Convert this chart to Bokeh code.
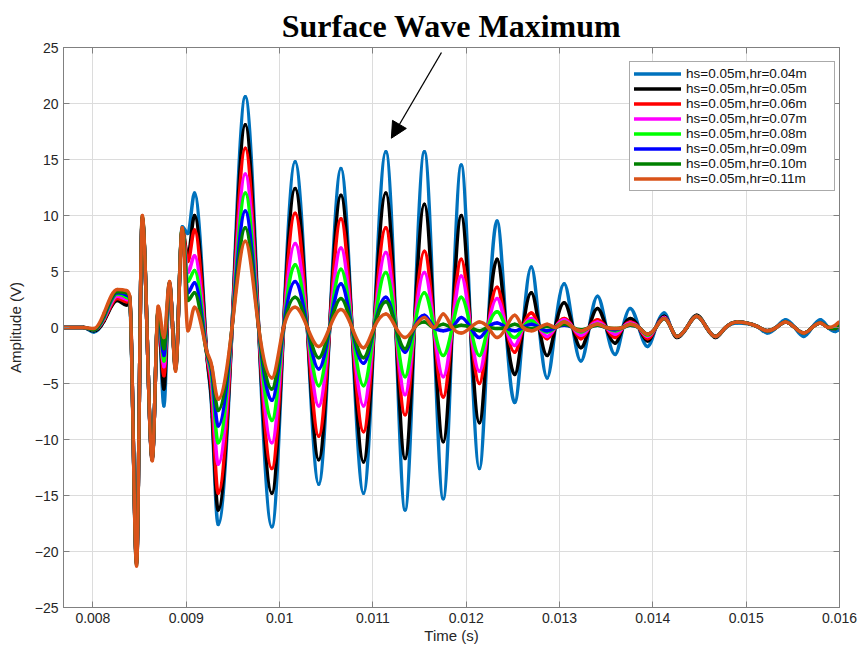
from bokeh.plotting import figure
from bokeh.models import (Range1d, LinearAxis, FixedTicker, CustomJSTickFormatter,
                          Arrow, NormalHead, ColumnDataSource)
from bokeh.embed import file_html
from bokeh.resources import INLINE

# ---------------- data ----------------
series_labels = ["hs=0.05m,hr=0.04m", "hs=0.05m,hr=0.05m", "hs=0.05m,hr=0.06m",
                 "hs=0.05m,hr=0.07m", "hs=0.05m,hr=0.08m", "hs=0.05m,hr=0.09m",
                 "hs=0.05m,hr=0.10m", "hs=0.05m,hr=0.11m"]
series_colors = ["#0072BD", "#000000", "#FF0000", "#FF00FF",
                 "#00FF00", "#0000FF", "#008000", "#D95319"]

x_ticks = [0.008, 0.009, 0.010, 0.011, 0.012, 0.013, 0.014, 0.015, 0.016]
x_tick_labels = ["0.008", "0.009", "0.01", "0.011", "0.012", "0.013", "0.014", "0.015", "0.016"]
y_ticks = [-25, -20, -15, -10, -5, 0, 5, 10, 15, 20, 25]

# key sample times (s): onset wiggles, then the extrema of the wave train
t_key = [0.007685, 0.00790, 0.00801, 0.00812, 0.00826, 0.00836, 0.008395, 0.008468,
         0.008529, 0.008636, 0.00870, 0.008761, 0.008821, 0.008886, 0.008957, 0.009018,
         0.009089, 0.00921, 0.009278,
         0.009342, 0.009633, 0.009918, 0.010167, 0.01042, 0.010658, 0.0109, 0.011139,
         0.011345, 0.011552, 0.011754, 0.011947, 0.012142, 0.012331, 0.01252, 0.012698,
         0.012868, 0.01305, 0.013229, 0.013407, 0.013596, 0.013757, 0.013943, 0.014121,
         0.014257, 0.01447, 0.014671, 0.014904, 0.015118, 0.015225, 0.015421, 0.015618,
         0.015796, 0.015957, 0.016]

# zero crossings of the wave train (s)
t_cross = [0.009491, 0.009776, 0.010043, 0.010298, 0.010537, 0.010776, 0.011014,
           0.011246, 0.011445, 0.011655, 0.01185, 0.012046, 0.012235, 0.012427,
           0.012609, 0.012783, 0.012954, 0.013143, 0.013318, 0.0135, 0.013679,
           0.01385, 0.014032, 0.014193, 0.014364, 0.014575, 0.014779, 0.015323,
           0.015521, 0.015707, 0.01588]

v_hr004 = [0, 0, -0.4, 0.6, 2.6, 2.6, 2.2, -20.8, 9.6, -11.6, 1.4, -7.0, 3.8, -3.4, 9.0, 8.4, 12.0, -1.2, -8.0,
           -17.6, 20.6, -17.8, 14.8, -14.0, 14.2, -14.8, 15.7, -16.3, 15.7, -15.3, 14.5, -12.6, 9.5,
           -6.7, 5.4, -4.5, 3.9, -3.0, 2.8, -2.4, 1.7, -1.7, 1.3, -0.8, 1.0, -0.8, 0.4, 0.1, -0.5,
           0.7, -0.8, 0.7, -0.35, -0.2]
v_hr005 = [0, 0, -0.3, 0.6, 2.4, 2.0, 2.2, -20.8, 9.6, -11.6, 1.5, -5.5, 3.8, -3.5, 8.7, 6.4, 10.0, -1.3, -7.5,
           -16.3, 18.1, -14.8, 12.4, -11.8, 11.8, -12.0, 12.0, -11.7, 11.0, -10.2, 10.0, -8.5, 6.1,
           -4.2, 3.1, -2.5, 2.2, -1.8, 1.7, -1.4, 0.8, -1.2, 1.0, -0.9, 1.1, -0.9, 0.5, 0.1, -0.3,
           0.5, -0.5, 0.4, -0.1, 0.1]
v_hr006 = [0, 0, -0.2, 0.7, 2.6, 2.3, 2.3, -20.9, 9.7, -11.7, 1.5, -4.3, 3.9, -3.5, 8.8, 5.9, 8.7, -1.5, -6.5,
           -14.8, 16.0, -12.6, 10.2, -9.7, 9.7, -9.3, 8.9, -7.8, 6.8, -6.2, 6.1, -5.0, 3.6,
           -2.2, 1.3, -1.0, 0.8, -1.0, 0.7, -0.9, 0.5, -1.0, 0.9, -0.8, 1.0, -0.8, 0.5, 0.1, -0.3,
           0.5, -0.5, 0.4, -0.1, 0.2]
v_hr007 = [0, 0, -0.2, 0.8, 2.8, 2.5, 2.4, -21.0, 9.7, -11.7, 1.5, -3.5, 3.9, -3.6, 8.6, 4.9, 6.4, -1.6, -5.5,
           -12.2, 13.7, -10.3, 7.5, -7.0, 7.1, -7.0, 6.7, -6.0, 4.9, -4.4, 4.6, -3.9, 2.6,
           -1.6, 0.8, -0.8, 0.7, -0.7, 0.5, -0.6, 0.4, -0.8, 0.9, -0.8, 1.0, -0.8, 0.5, 0.1, -0.3,
           0.5, -0.5, 0.4, -0.1, 0.2]
v_hr008 = [0, 0, -0.2, 0.9, 3.0, 2.7, 2.5, -21.0, 9.8, -11.7, 1.6, -3.0, 3.9, -3.6, 8.8, 4.1, 5.1, -1.7, -4.8,
           -10.3, 12.0, -8.3, 5.6, -5.2, 5.2, -5.2, 4.9, -4.4, 3.1, -2.5, 2.7, -2.5, 1.4,
           -0.9, 0.6, -0.4, 0.5, -0.4, 0.3, -0.3, 0.3, -0.7, 0.8, -0.8, 1.0, -0.8, 0.5, 0.1, -0.3,
           0.5, -0.5, 0.4, -0.1, 0.2]
v_hr009 = [0, 0, -0.2, 1.0, 3.1, 2.9, 2.6, -21.1, 9.8, -11.8, 1.6, -2.5, 4.0, -3.7, 8.6, 3.1, 4.0, -1.8, -4.2,
           -8.8, 10.4, -6.5, 4.1, -3.7, 3.9, -3.2, 2.7, -2.2, 1.1, -0.3, 0.9, -0.9, 0.4,
           -0.3, 0.3, -0.3, 0.2, -0.3, 0.2, -0.2, 0.2, -0.6, 0.8, -0.8, 1.0, -0.8, 0.5, 0.1, -0.3,
           0.5, -0.5, 0.4, -0.1, 0.3]
v_hr010 = [0, 0, -0.2, 1.1, 3.2, 3.1, 2.7, -21.2, 9.9, -11.8, 1.7, -1.9, 4.0, -3.8, 8.8, 2.4, 3.1, -1.9, -3.8,
           -7.4, 8.9, -5.5, 2.7, -2.7, 2.6, -2.7, 2.3, -1.9, 0.5, 0.3, 0.2, -0.3, -0.1,
           0.3, -0.1, 0.1, 0.3, -0.2, 0.2, -0.1, 0.2, -0.6, 0.8, -0.8, 1.0, -0.8, 0.5, 0.1, -0.3,
           0.5, -0.5, 0.4, -0.1, 0.3]
v_hr011 = [0, 0, -0.1, 1.3, 3.4, 3.3, 2.8, -21.3, 10.0, -11.9, 1.9, -0.9, 4.1, -3.9, 8.9, -0.3, 1.8, -1.8, -3.6,
           -6.4, 7.7, -4.5, 1.8, -1.7, 1.6, -1.8, 1.2, -0.9, 0.9, 1.2, -0.5, 0.5, -0.9,
           1.1, -0.3, 0.3, 0.5, -0.3, 0.3, -0.1, 0.3, -0.6, 0.8, -0.8, 1.0, -0.8, 0.5, 0.1, -0.3,
           0.5, -0.5, 0.4, 0.2, 0.5]

series_values = [v_hr004, v_hr005, v_hr006, v_hr007, v_hr008, v_hr009, v_hr010, v_hr011]

title_text = "Surface Wave Maximum"
arrow_start = (0.011735, 24.55)
arrow_end = (0.011198, 16.9)

# ---------------- figure ----------------
FONT = "Liberation Sans"
AX = "#808080"

p = figure(width=863, height=651,
           x_range=Range1d(0.007685, 0.016), y_range=Range1d(-25, 25),
           output_backend="svg", toolbar_location=None,
           min_border_left=63, min_border_right=24, min_border_top=47, min_border_bottom=44,
           background_fill_color="white", border_fill_color="white")

p.outline_line_color = AX
p.outline_line_width = 1

bottom_axis = p.below[0]
left_axis = p.left[0]

top_axis = LinearAxis(ticker=FixedTicker(ticks=x_ticks),
                      formatter=CustomJSTickFormatter(code="return ''"))
right_axis = LinearAxis(ticker=FixedTicker(ticks=y_ticks),
                        formatter=CustomJSTickFormatter(code="return ''"))
p.add_layout(top_axis, "above")
p.add_layout(right_axis, "right")

bottom_axis.ticker = FixedTicker(ticks=x_ticks)
bottom_axis.major_label_overrides = dict(zip(x_ticks, x_tick_labels))
left_axis.ticker = FixedTicker(ticks=y_ticks)

for ax in (bottom_axis, left_axis, top_axis, right_axis):
    ax.axis_line_color = AX
    ax.major_tick_line_color = AX
    ax.major_tick_in = 6
    ax.major_tick_out = 0
    ax.minor_tick_line_color = None
    ax.major_label_text_font = FONT
    ax.major_label_text_font_size = "14px"
    ax.major_label_text_color = "#262626"
    ax.axis_label_text_font = FONT
    ax.axis_label_text_font_size = "15px"
    ax.axis_label_text_font_style = "normal"
    ax.axis_label_text_color = "#262626"
    ax.major_label_standoff = 5
top_axis.major_label_standoff = 0
right_axis.major_label_standoff = 0

bottom_axis.axis_label = "Time (s)"
bottom_axis.axis_label_standoff = 1
left_axis.axis_label = "Amplitude (V)"
left_axis.axis_label_standoff = 8

p.xgrid.ticker = FixedTicker(ticks=x_ticks)
p.ygrid.ticker = FixedTicker(ticks=y_ticks)
p.grid.grid_line_color = "#dcdcdc"
p.grid.grid_line_width = 1

p.title.text = title_text
p.title.align = "center"
p.title.text_font = "Liberation Serif"
p.title.text_font_style = "bold"
p.title.text_font_size = "32px"
p.title.text_color = "black"
p.title.standoff = 8


def smooth_curve(ts, vs):
    """Monotone cubic Bezier segments through the read points (flat at extrema)."""
    n = len(ts)
    sec = [(vs[i + 1] - vs[i]) / (ts[i + 1] - ts[i]) for i in range(n - 1)]
    m = []
    for i in range(n):
        if i == 0 or i == n - 1:
            m.append(0.0)
            continue
        a, b = sec[i - 1], sec[i]
        if a * b <= 0:
            m.append(0.0)
        else:
            hm = 2.0 / (1.0 / a + 1.0 / b)
            s = 1.5 * hm
            lim = 3.0 * min(abs(a), abs(b))
            if abs(s) > lim:
                s = lim if s > 0 else -lim
            m.append(s)
    x0, y0, x1, y1, cx0, cy0, cx1, cy1 = ([] for _ in range(8))
    for i in range(n - 1):
        h = ts[i + 1] - ts[i]
        x0.append(ts[i]); y0.append(vs[i])
        x1.append(ts[i + 1]); y1.append(vs[i + 1])
        cx0.append(ts[i] + h / 3.0); cy0.append(vs[i] + m[i] * h / 3.0)
        cx1.append(ts[i + 1] - h / 3.0); cy1.append(vs[i + 1] - m[i + 1] * h / 3.0)
    return dict(x0=x0, y0=y0, x1=x1, y1=y1, cx0=cx0, cy0=cy0, cx1=cx1, cy1=cy1)


for lab, col, vals in zip(series_labels, series_colors, series_values):
    pts = sorted(list(zip(t_key, vals)) + [(t, 0.0) for t in t_cross])
    ts = [a for a, b in pts]
    vs = [b for a, b in pts]
    src = ColumnDataSource(smooth_curve(ts, vs))
    p.bezier(x0="x0", y0="y0", x1="x1", y1="y1", cx0="cx0", cy0="cy0",
             cx1="cx1", cy1="cy1", source=src, line_color=col, line_width=3.5,
             line_cap="round", legend_label=lab)

lg = p.legend[0]
lg.location = (566, 416)
lg.label_text_font = FONT
lg.label_text_font_size = "13.5px"
lg.label_text_color = "#111111"
lg.glyph_width = 47
lg.glyph_height = 15
lg.label_height = 15
lg.label_width = 144
lg.label_standoff = 5
lg.spacing = 0
lg.padding = 4
lg.margin = 0
lg.border_line_color = "#555555"
lg.border_line_width = 1
lg.background_fill_color = "white"
lg.background_fill_alpha = 1.0

p.add_layout(Arrow(end=NormalHead(size=16, fill_color="black", line_color="black"),
                   x_start=arrow_start[0], y_start=arrow_start[1],
                   x_end=arrow_end[0], y_end=arrow_end[1],
                   line_color="black", line_width=1.3))

open("out.html", "w").write(file_html(p, INLINE))
